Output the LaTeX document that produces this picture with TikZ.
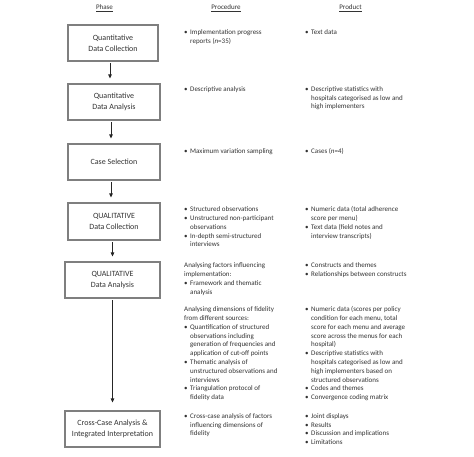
\documentclass[tikz,border=0pt]{standalone}
\usepackage{fontspec}
\setmainfont{Carlito}
\usetikzlibrary{arrows.meta}
\definecolor{txt}{HTML}{333333}
\definecolor{frame}{HTML}{7F7F7F}
\newcommand\bul{\makebox[6pt][l]{\textbullet}}
\newcommand\ind{\hspace*{6pt}}
\begin{document}
\begin{tikzpicture}[x=1pt,y=-1pt,
 phase/.style={draw=frame, line width=1.1pt, text=txt, font=\fontsize{8}{10.6}\selectfont, align=center, inner sep=0pt},
 col/.style={anchor=north west, inner sep=0pt, align=left, text=txt, font=\fontsize{7}{8.8}\selectfont},
 head/.style={text=txt, font=\fontsize{7}{8.8}\selectfont, inner sep=0pt},
 arr/.style={-{Triangle[length=4pt,width=3.5pt]}, draw=black!85, line width=0.8pt, shorten >=5pt, shorten <=1.5pt}]
\useasboundingbox (0,0) rectangle (474,457);
\fill[white] (0,0) rectangle (474,457);

% headers
\node[head] (h1) at (104.5,8) {\underline{Phase}};
\node[head] (h2) at (226,8) {\underline{Procedure}};
\node[head] (h3) at (350.5,8) {\underline{Product}};

% phase boxes
\node[phase, minimum width=90pt, minimum height=36pt] (b1) at (113,43) {Quantitative\\Data Collection};
\node[phase, minimum width=92pt, minimum height=36pt] (b2) at (114,102) {Quantitative\\Data Analysis};
\node[phase, minimum width=92pt, minimum height=36pt] (b3) at (114,162) {Case Selection};
\node[phase, minimum width=92pt, minimum height=37pt] (b4) at (114,221.5) {QUALITATIVE\\Data Collection};
\node[phase, minimum width=95pt, minimum height=36pt] (b5) at (112.5,280) {QUALITATIVE\\Data Analysis};
\node[phase, minimum width=95pt, minimum height=36pt] (b6) at (112.5,429) {Cross-Case Analysis \&\\Integrated Interpretation};

% arrows
\draw[arr] ([xshift=-3pt]b1.south) -- ([xshift=-3pt]b1.south |- b2.north);
\draw[arr] ([xshift=-3pt]b2.south) -- ([xshift=-3pt]b2.south |- b3.north);
\draw[arr] ([xshift=-3pt]b3.south) -- ([xshift=-3pt]b3.south |- b4.north);
\draw[arr] ([xshift=-1.5pt]b4.south) -- ([xshift=-1.5pt]b4.south |- b5.north);
\draw[arr, shorten >=8pt] (b5.south) -- (b5.south |- b6.north);

% procedure column
\node[col] (p1) at (184,28) {\strut\bul Implementation progress\\\ind reports (\textit{n}=35)};
\node[col] (p2) at (184,85) {\strut\bul Descriptive analysis};
\node[col] (p3) at (184,147.3) {\strut\bul Maximum variation sampling};
\node[col] (p4) at (184,205.3) {\strut\bul Structured observations\\\bul Unstructured non-participant\\\ind observations\\\bul In-depth semi-structured\\\ind interviews};
\node[col] (p5) at (184,261.3) {\strut Analysing factors influencing\\implementation:\\\bul Framework and thematic\\\ind analysis};
\node[col] (p6) at (184,305.3) {\strut Analysing dimensions of fidelity\\from different sources:\\\bul Quantification of structured\\\ind observations including\\\ind generation of frequencies and\\\ind application of cut-off points\\\bul Thematic analysis of\\\ind unstructured observations and\\\ind interviews\\\bul Triangulation protocol of\\\ind fidelity data};
\node[col] (p7) at (184,412) {\strut\bul Cross-case analysis of factors\\\ind influencing dimensions of\\\ind fidelity};

% product column
\node[col] (q1) at (305,28) {\strut\bul Text data};
\node[col] (q2) at (305,85) {\strut\bul Descriptive statistics with\\\ind hospitals categorised as low and\\\ind high implementers};
\node[col] (q3) at (305,147.3) {\strut\bul Cases (\textit{n}=4)};
\node[col] (q4) at (305,205.3) {\strut\bul Numeric data (total adherence\\\ind score per menu)\\\bul Text data (field notes and\\\ind interview transcripts)};
\node[col] (q5) at (305,261.3) {\strut\bul Constructs and themes\\\bul Relationships between constructs};
\node[col] (q6) at (305,305.3) {\strut\bul Numeric data (scores per policy\\\ind condition for each menu, total\\\ind score for each menu and average\\\ind score across the menus for each\\\ind hospital)\\\bul Descriptive statistics with\\\ind hospitals categorised as low and\\\ind high implementers based on\\\ind structured observations\\\bul Codes and themes\\\bul Convergence coding matrix};
\node[col] (q7) at (305,412) {\strut\bul Joint displays\\\bul Results\\\bul Discussion and implications\\\bul Limitations};
\end{tikzpicture}
\end{document}
